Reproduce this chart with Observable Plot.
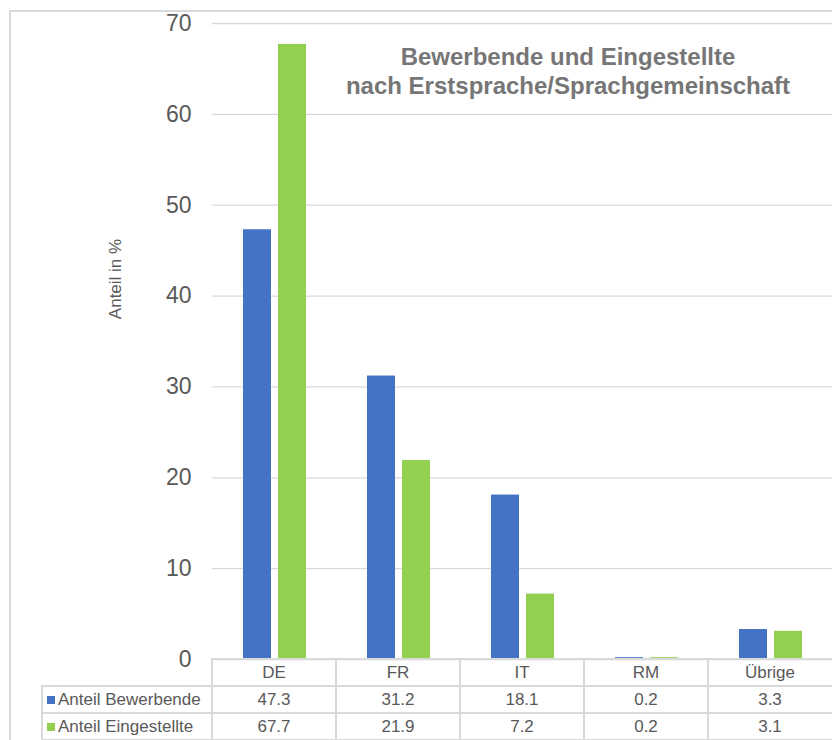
<!DOCTYPE html>
<html>
<head>
<meta charset="utf-8">
<script src="https://cdn.jsdelivr.net/npm/d3@7"></script>
<script src="https://cdn.jsdelivr.net/npm/@observablehq/plot@0.6"></script>
<style>
  html, body { margin: 0; padding: 0; background: #fff; }
  #wrap { position: relative; width: 832px; height: 740px; overflow: hidden; font-family: "Liberation Sans", Arial, sans-serif; }
  #frame { position: absolute; left: 9px; top: 10px; width: 900px; height: 900px; border: 2px solid #d9d9d9; box-sizing: border-box; }
  #chart { position: absolute; left: 0; top: 0; }
  #title { position: absolute; left: 268px; top: 42px; width: 600px; text-align: center; font-weight: bold; font-size: 24px; line-height: 29px; color: #767676; }
  #ylabel { position: absolute; left: 116px; top: 279px; transform: translate(-50%, -50%) rotate(-90deg); font-size: 17px; color: #595959; white-space: nowrap; }
  .hl { position: absolute; height: 2px; background: #d9d9d9; }
  .vl { position: absolute; width: 2px; background: #d9d9d9; }
  .cell { position: absolute; height: 27px; line-height: 27px; font-size: 17px; color: #595959; text-align: center; white-space: nowrap; }
  .leg { position: absolute; height: 27px; line-height: 27px; font-size: 17px; color: #595959; white-space: nowrap; }
  .sw { display: inline-block; width: 8px; height: 8px; margin-right: 3px; vertical-align: 1px; }
</style>
</head>
<body>
<div id="wrap">
  <div id="frame"></div>
  <div id="chart"></div>
  <div id="title">Bewerbende und Eingestellte<br>nach Erstsprache/Sprachgemeinschaft</div>
  <div id="ylabel">Anteil in %</div>
</div>
<script>
const categories = ["DE", "FR", "IT", "RM", "Übrige"];
const seriesNames = ["Anteil Bewerbende", "Anteil Eingestellte"];
const bewerbende = [47.3, 31.2, 18.1, 0.2, 3.3];
const eingestellte = [67.7, 21.9, 7.2, 0.2, 3.1];
const seriesColors = ["#4472C4", "#92D050"];
const yTicks = [0, 10, 20, 30, 40, 50, 60, 70];

const seriesValues = [bewerbende, eingestellte];
const data = [];
categories.forEach((c, i) => {
  seriesNames.forEach((s, j) => data.push({cat: c, series: s, value: seriesValues[j][i]}));
});

const chart = Plot.plot({
  width: 832,
  height: 690,
  marginTop: 23,
  marginBottom: 31,
  marginLeft: 212,
  marginRight: 0,
  style: {fontFamily: "Liberation Sans, Arial, sans-serif", background: "transparent"},
  fx: {domain: categories, padding: 0, axis: null, label: null},
  x: {domain: seriesNames, paddingInner: 0.2, paddingOuter: 0.871, axis: null, label: null},
  y: {domain: [0, 70], label: null},
  color: {domain: seriesNames, range: seriesColors},
  marks: [
    Plot.gridY(yTicks, {stroke: "#d9d9d9", strokeOpacity: 1, strokeWidth: 1.3}),
    Plot.barY(data, {fx: "cat", x: "series", y: "value", fill: "series"}),
    Plot.axisY(yTicks, {tickSize: 0, tickPadding: 21, fontSize: 23, fill: "#595959", label: null})
  ]
});
document.getElementById("chart").appendChild(chart);

// Data table below the plot
const wrap = document.getElementById("wrap");
const colLeft = 212, colW = 124, legLeft = 42;
const rowTops = [659, 686, 713];
function add(cls, style, html) {
  const d = document.createElement("div");
  d.className = cls;
  Object.assign(d.style, style);
  if (html !== undefined) d.innerHTML = html;
  wrap.appendChild(d);
  return d;
}
// horizontal lines
add("hl", {left: colLeft + "px", top: "658px", width: (832 - colLeft) + "px"});
add("hl", {left: legLeft + "px", top: "685px", width: (832 - legLeft) + "px"});
add("hl", {left: legLeft + "px", top: "712px", width: (832 - legLeft) + "px"});
add("hl", {left: legLeft + "px", top: "739px", width: (832 - legLeft) + "px"});
// vertical lines
add("vl", {left: (legLeft - 1) + "px", top: "685px", height: "60px"});
for (let i = 0; i < categories.length; i++) {
  add("vl", {left: (colLeft + i * colW - 1) + "px", top: "658px", height: "90px"});
}
// header
categories.forEach((c, i) => {
  add("cell", {left: (colLeft + i * colW) + "px", top: rowTops[0] + "px", width: colW + "px"}, c);
});
// rows
seriesNames.forEach((s, j) => {
  add("leg", {left: (legLeft + 5) + "px", top: rowTops[j + 1] + "px"},
      `<span class="sw" style="background:${seriesColors[j]}"></span>${s}`);
  seriesValues[j].forEach((v, i) => {
    add("cell", {left: (colLeft + i * colW) + "px", top: rowTops[j + 1] + "px", width: colW + "px"}, v.toFixed(1));
  });
});
</script>
</body>
</html>
